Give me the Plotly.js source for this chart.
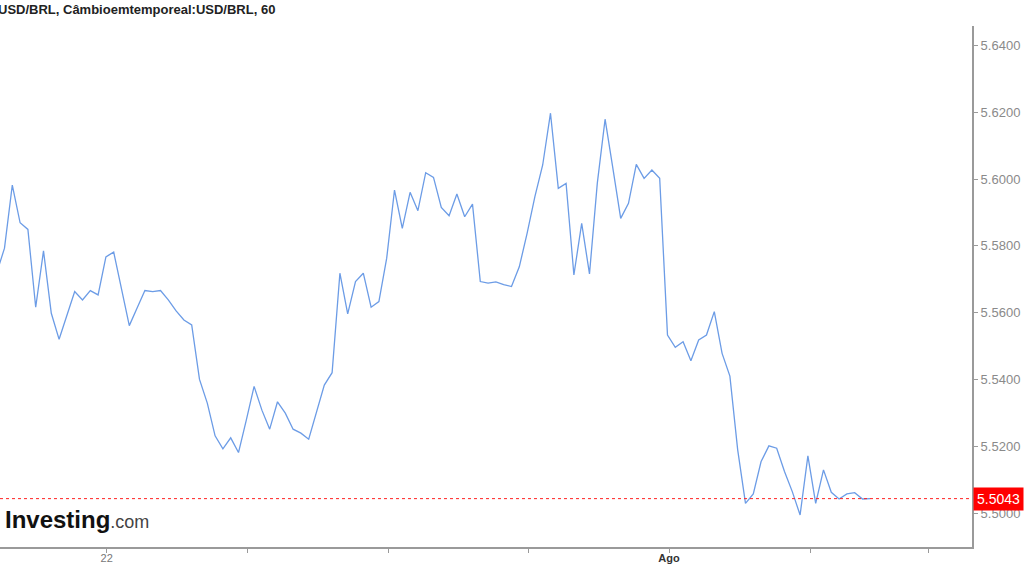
<!DOCTYPE html>
<html>
<head>
<meta charset="utf-8">
<script src="https://cdn.plot.ly/plotly-3.0.1.min.js"></script>
<style>html,body{margin:0;padding:0;background:#fff;}#chart{width:1024px;height:565px;}</style>
</head>
<body>
<div id="chart"></div>
<script>
// Hourly bar index (trading hours), starting one bar before the visible window
const barIndex = [];
for (let i = -1; i <= 111; i++) barIndex.push(i);

// USD/BRL close prices
const closePrices = [
  5.5719, 5.5793, 5.5982, 5.5869, 5.5849, 5.5616, 5.5785, 5.5598, 5.5520, 5.5591,
  5.5663, 5.5638, 5.5666, 5.5653, 5.5767, 5.5781, 5.5668, 5.5561, 5.5614, 5.5666,
  5.5663, 5.5666, 5.5638, 5.5605, 5.5578, 5.5563, 5.5400, 5.5329, 5.5231, 5.5192,
  5.5225, 5.5181, 5.5278, 5.5379, 5.5308, 5.5251, 5.5333, 5.5299, 5.5251, 5.5239,
  5.5221, 5.5303, 5.5383, 5.5420, 5.5718, 5.5596, 5.5693, 5.5718, 5.5616, 5.5633,
  5.5763, 5.5967, 5.5852, 5.5960, 5.5905, 5.6019, 5.6005, 5.5915, 5.5890, 5.5955,
  5.5887, 5.5925, 5.5693, 5.5688, 5.5692, 5.5684, 5.5678, 5.5737, 5.5837, 5.5947,
  5.6042, 5.6197, 5.5972, 5.5987, 5.5713, 5.5867, 5.5716, 5.5987, 5.6179, 5.6032,
  5.5882, 5.5927, 5.6044, 5.6002, 5.6027, 5.6002, 5.5533, 5.5496, 5.5513, 5.5456,
  5.5518, 5.5533, 5.5603, 5.5478, 5.5410, 5.5189, 5.5029, 5.5057, 5.5154, 5.5201,
  5.5194, 5.5124, 5.5064, 5.4994, 5.5171, 5.5029, 5.5129, 5.5062, 5.5042, 5.5057,
  5.5061, 5.5042, 5.5043
];

const lastPrice = 5.5043;

// X-axis tick positions (in bar index units) and labels
const xTickVals = [13.1, 31.2, 49.25, 67.2, 85.2, 103.3, 118.4];
const xTickText = ['22', '', '', '', '<span style="color:#333"><b>Ago</b></span>', '', ''];

// Y-axis ticks
const yTickVals = [5.50, 5.52, 5.54, 5.56, 5.58, 5.60, 5.62, 5.64];
const yTickText = ['5.5000', '5.5200', '5.5400', '5.5600', '5.5800', '5.6000', '5.6200', '5.6400'];

const titleText = 'USD/BRL, Câmbioemtemporeal:USD/BRL, 60';

const trace = {
  x: barIndex,
  y: closePrices,
  type: 'scatter',
  mode: 'lines',
  line: {color: '#6c9ce6', width: 1.3},
  hoverinfo: 'skip',
  showlegend: false
};

const layout = {
  width: 1024,
  height: 565,
  margin: {l: 0, r: 52, t: 26, b: 18, pad: 0},
  paper_bgcolor: '#ffffff',
  plot_bgcolor: '#ffffff',
  font: {family: 'Liberation Sans, Arial, sans-serif'},
  showlegend: false,
  xaxis: {
    range: [-0.577, 124.04],
    showgrid: false,
    zeroline: false,
    showline: true,
    linecolor: '#9a9a9a',
    linewidth: 2,
    ticks: 'outside',
    ticklen: 4,
    tickwidth: 1,
    tickcolor: '#9a9a9a',
    tickmode: 'array',
    tickvals: xTickVals,
    ticktext: xTickText,
    ticklabelstandoff: -4,
    tickfont: {size: 11, color: '#777777', family: 'Liberation Sans, Arial, sans-serif'},
    fixedrange: true
  },
  yaxis: {
    side: 'right',
    range: [5.48982, 5.64581],
    showgrid: false,
    zeroline: false,
    showline: true,
    linecolor: '#9a9a9a',
    linewidth: 2,
    ticks: 'outside',
    ticklen: 4,
    tickwidth: 1,
    tickcolor: '#9a9a9a',
    tickmode: 'array',
    tickvals: yTickVals,
    ticktext: yTickText,
    tickfont: {size: 13, color: '#8a8a8a', family: 'Liberation Sans, Arial, sans-serif'},
    fixedrange: true
  },
  shapes: [{
    type: 'line',
    xref: 'paper', x0: 0, x1: 1,
    yref: 'y', y0: lastPrice, y1: lastPrice,
    line: {color: '#ff2020', width: 1, dash: 'dot'}
  }],
  annotations: [
    {
      text: titleText,
      xref: 'paper', yref: 'paper',
      x: 0, xanchor: 'left', xshift: -4,
      y: 1.0317, yanchor: 'middle',
      showarrow: false,
      font: {size: 13, color: '#222222', family: 'Liberation Sans, Arial, sans-serif', weight: 'bold'}
    },
    {
      text: lastPrice.toFixed(4),
      xref: 'paper', yref: 'y',
      x: 1, xanchor: 'left', xshift: 1,
      y: lastPrice, yanchor: 'middle',
      showarrow: false,
      bgcolor: '#ff0000',
      borderpad: 3,
      font: {size: 14, color: '#ffffff', family: 'Liberation Sans, Arial, sans-serif'}
    },
    {
      text: '<b>Investing</b><span style="font-size:18px;color:#444444">.com</span>',
      xref: 'paper', yref: 'paper',
      x: 0, xanchor: 'left', xshift: 3,
      y: 0.0537, yanchor: 'middle',
      showarrow: false,
      font: {size: 24, color: '#111111', family: 'Liberation Sans, Arial, sans-serif'}
    }
  ]
};

Plotly.newPlot('chart', [trace], layout, {displayModeBar: false, staticPlot: true});
</script>
</body>
</html>
